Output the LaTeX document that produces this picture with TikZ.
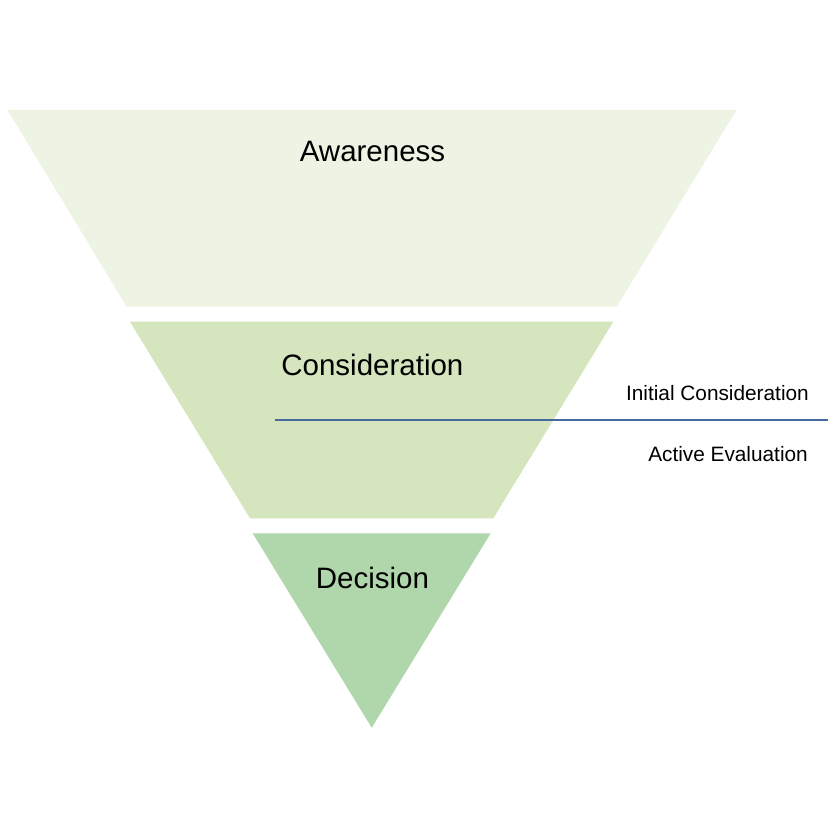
\documentclass[tikz,border=0pt]{standalone}
\usepackage{fontspec}
\setmainfont{Liberation Sans}
\definecolor{awareC}{RGB}{238,244,228}
\definecolor{considC}{RGB}{213,229,189}
\definecolor{decisC}{RGB}{176,215,171}
\definecolor{lineC}{RGB}{70,105,160}
\begin{document}
\begin{tikzpicture}[x=1pt,y=-1pt]
\tikzset{
  biglabel/.style={anchor=base,inner sep=0pt,font=\fontsize{29.5}{34}\selectfont,text=black},
  sidelabel/.style={anchor=base east,inner sep=0pt,font=\fontsize{20.8}{24}\selectfont,text=black},
  divider/.style={draw=lineC,line width=1.3pt}
}
\fill[white] (0,0) rectangle (840,840);
\useasboundingbox (0,0) rectangle (840,840);
% funnel stages
\fill[awareC] (7.5,110) -- (736.5,110) -- (616.7,306.7) -- (126.7,306.7) -- cycle;
\fill[considC] (130,321.7) -- (613.3,321.7) -- (493.3,518.3) -- (250,518.3) -- cycle;
\fill[decisC] (252.7,533.3) -- (490.7,533.3) -- (371.7,727.7) -- cycle;
% labels
\node[biglabel] (aw) at (372.5,161.7) {Awareness};
\node[biglabel] (co) at (372.4,375.7) {Consideration};
\node[biglabel] (de) at (372.5,588.3) {Decision};
% divider
\coordinate (dl) at (275,420);
\coordinate (dr) at (828,420);
\draw[divider] (dl) -- (dr);
\node[sidelabel] (ic) at (809,400) {Initial Consideration};
\node[sidelabel] (ae) at (808,461) {Active Evaluation};
\end{tikzpicture}
\end{document}
